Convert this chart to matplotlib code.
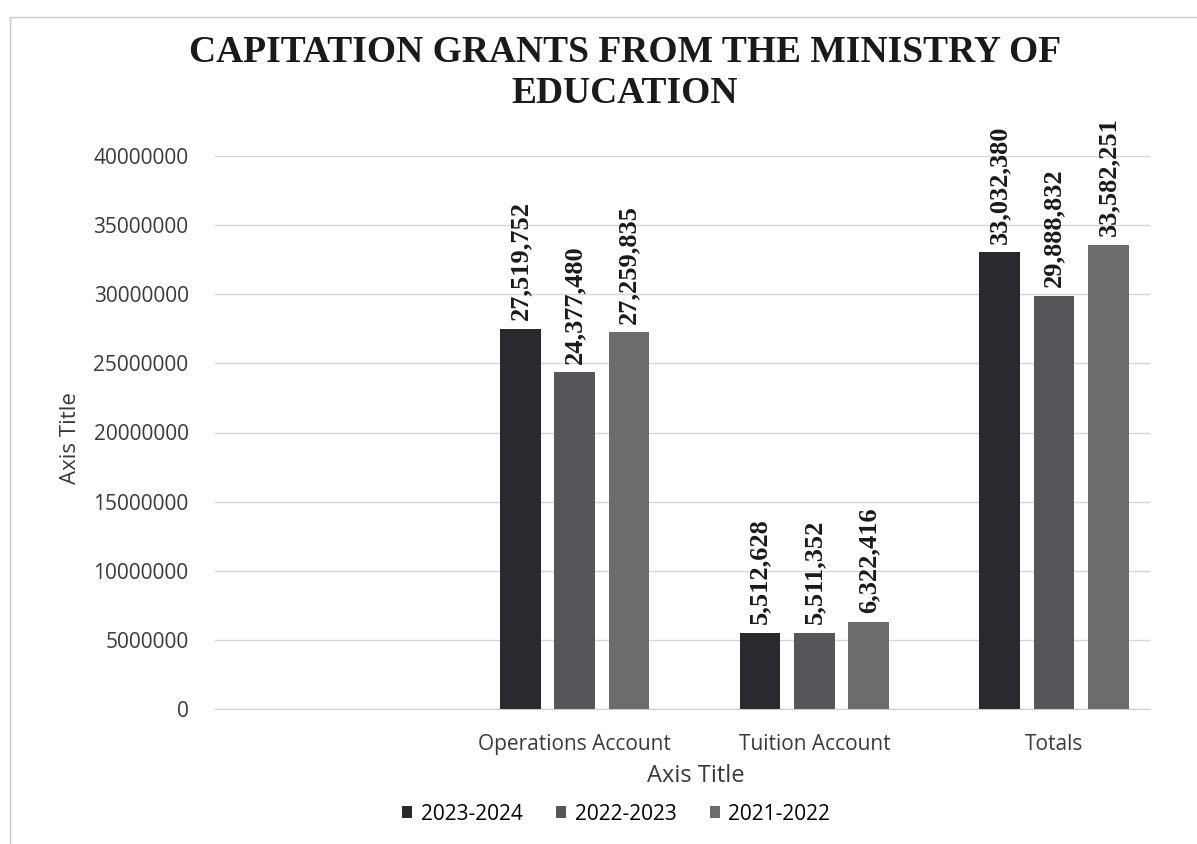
import numpy as np
import matplotlib.pyplot as plt
from matplotlib.patches import Rectangle

# capitation grants by account, per school year
categories = ["", "Operations Account", "Tuition Account", "Totals"]
years = ["2023-2024", "2022-2023", "2021-2022"]
grants_2023_24 = [np.nan, 27519752, 5512628, 33032380]
grants_2022_23 = [np.nan, 24377480, 5511352, 29888832]
grants_2021_22 = [np.nan, 27259835, 6322416, 33582251]
yticks = [0, 5000000, 10000000, 15000000, 20000000, 25000000,
          30000000, 35000000, 40000000]

series = [grants_2023_24, grants_2022_23, grants_2021_22]
colors = ["#2a2a2e", "#56565a", "#6c6c6f"]

sans = "Open Sans"
serif = "Liberation Serif"
txt = "#3a3a3a"

fig = plt.figure(figsize=(11.97, 8.44), dpi=100)
fig.patch.set_facecolor("white")

# chart frame
fig.add_artist(Rectangle((10 / 1197, -0.05), 1.2, (844 - 17) / 844 + 0.05,
                         transform=fig.transFigure, fill=False,
                         edgecolor="#c8c8c8", linewidth=1.0))

ax = fig.add_axes([215 / 1197, 1 - 709 / 844, (1150 - 215) / 1197, (709 - 156) / 844])

x = np.arange(len(categories))
width = 0.17
step = 0.227
for i, (vals, lab, col) in enumerate(zip(series, years, colors)):
    pos = x + (i - 1) * step
    ax.bar(pos, vals, width, color=col, label=lab, zorder=3)
    for xp, v in zip(pos, vals):
        if np.isnan(v):
            continue
        ax.annotate(f"{int(v):,}", (xp, v), xytext=(0, 6), textcoords="offset points",
                    rotation=90, ha="center", va="bottom", fontsize=19,
                    fontweight="bold", family=serif, color="#1a1a1a", zorder=4)

ax.set_xlim(-0.5, 3.4)
ax.set_ylim(0, 40000000)
ax.set_yticks(yticks)
ax.set_yticklabels([str(t) for t in yticks], fontsize=15, family=sans, color=txt)
ax.set_xticks(x)
ax.set_xticklabels(categories, fontsize=15, family=sans, color=txt)
ax.tick_params(axis="y", length=0, pad=19)
ax.tick_params(axis="x", length=0, pad=18)

ax.grid(axis="y", color="#d6d6d6", linewidth=1.0, zorder=0)
for s in ["top", "right", "left"]:
    ax.spines[s].set_visible(False)
ax.spines["bottom"].set_color("#cfcfcf")

ax.set_ylabel("Axis Title", fontsize=16, family=sans, color=txt)
ax.yaxis.set_label_coords(-(215 - 70) / (1150 - 215), 0.49)
ax.set_xlabel("Axis Title", fontsize=17, family=sans, color=txt)
ax.xaxis.set_label_coords((696 - 215) / (1150 - 215), -(776 - 709) / (709 - 156))
ax.xaxis.label.set_va("center")
ax.yaxis.label.set_va("center")

fig.text(0.522, 1 - 73 / 844, "CAPITATION GRANTS FROM THE MINISTRY OF\nEDUCATION",
         ha="center", va="center", fontsize=27, fontweight="bold", family=serif,
         color="#1a1a1a", linespacing=1.25)

fig.legend(loc="center", bbox_to_anchor=(616 / 1197, 1 - 814 / 844), ncol=3,
           frameon=False, prop={"family": sans, "size": 15},
           handlelength=0.5, handleheight=0.5, handletextpad=0.4, columnspacing=1.6)

plt.savefig("out.png", dpi=100)
